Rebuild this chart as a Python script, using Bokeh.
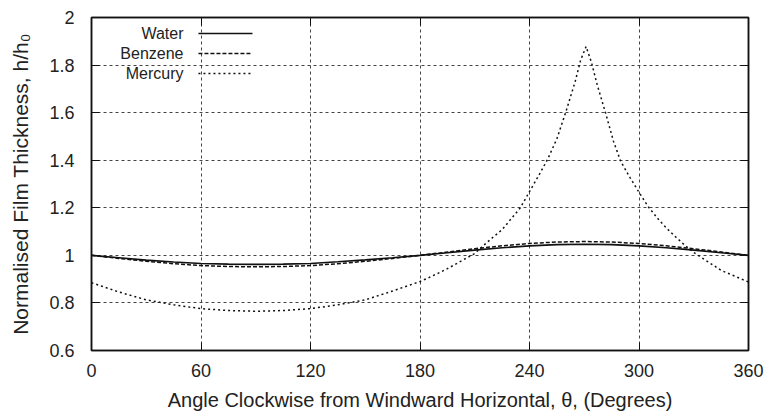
from bokeh.plotting import figure
from bokeh.models import (FixedTicker, NumeralTickFormatter, LinearAxis, Range1d, Label, Arrow,
                          CustomJSTickFormatter)
from bokeh.embed import file_html
from bokeh.resources import INLINE

# ---- data ----
theta = [0, 15, 30, 45, 60, 75, 90, 105, 120, 135, 150, 165, 180,
         195, 210, 225, 240, 255, 270, 285, 300, 315, 330, 345, 360]
water = [1.0, 0.990, 0.980, 0.972, 0.966, 0.963, 0.962, 0.963, 0.966, 0.973, 0.981, 0.990, 1.0,
         1.011, 1.022, 1.032, 1.040, 1.045, 1.047, 1.045, 1.040, 1.032, 1.022, 1.011, 1.0]
benzene = [1.0, 0.987, 0.975, 0.965, 0.957, 0.953, 0.952, 0.953, 0.957, 0.965, 0.975, 0.987, 1.0,
           1.014, 1.028, 1.040, 1.050, 1.056, 1.058, 1.056, 1.050, 1.040, 1.028, 1.014, 1.0]
theta_hg = [0, 15, 30, 45, 60, 75, 90, 105, 120, 135, 150, 165, 180, 185, 190, 195, 200, 210,
            215, 220, 225, 229, 235, 240, 245, 250, 255, 260, 265, 268, 271, 274, 277, 282, 286,
            290, 295, 300, 305, 311, 315, 320, 325, 330, 345, 360]
mercury = [0.885, 0.846, 0.813, 0.792, 0.776, 0.768, 0.765, 0.768, 0.776, 0.792, 0.813, 0.850, 0.890,
           0.907, 0.925, 0.944, 0.965, 1.008, 1.043, 1.076, 1.108, 1.145, 1.200, 1.268, 1.335, 1.405,
           1.490, 1.605, 1.730, 1.820, 1.878, 1.810, 1.720, 1.590, 1.480, 1.395, 1.328, 1.265,
           1.205, 1.148, 1.115, 1.078, 1.043, 1.012, 0.937, 0.888]
series_names = ["Water", "Benzene", "Mercury"]
x_ticks = [0, 60, 120, 180, 240, 300, 360]
y_ticks = [0.6, 0.8, 1.0, 1.2, 1.4, 1.6, 1.8, 2.0]

FONT = "Liberation Sans"
TXT = "#222222"
INK = "#111111"

p = figure(width=764, height=416, output_backend="svg", toolbar_location=None,
           x_range=Range1d(0, 360), y_range=Range1d(0.6, 2.0),
           min_border_left=91, min_border_right=16, min_border_top=17, min_border_bottom=66)
p.background_fill_color = "white"
p.border_fill_color = "white"
p.outline_line_color = INK
p.outline_line_width = 1.5

def style_axis(ax):
    ax.axis_line_color = INK
    ax.axis_line_width = 1.5
    ax.major_tick_in = 8
    ax.major_tick_out = 0
    ax.minor_tick_line_color = None
    ax.major_tick_line_color = INK
    ax.major_tick_line_width = 1
    ax.major_label_text_font = FONT
    ax.major_label_text_font_size = "18px"
    ax.major_label_text_color = TXT
    ax.axis_label_text_font = FONT
    ax.axis_label_text_font_size = "20px"
    ax.axis_label_text_font_style = "normal"
    ax.axis_label_text_color = TXT

p.xaxis.ticker = FixedTicker(ticks=x_ticks)
p.yaxis.ticker = FixedTicker(ticks=y_ticks)
p.yaxis.formatter = NumeralTickFormatter(format="0.[0]")
p.xaxis.axis_label = "Angle Clockwise from Windward Horizontal, \u03b8, (Degrees)"
p.yaxis.axis_label = "Normalised Film Thickness, h/h\u2080"
style_axis(p.xaxis[0])
style_axis(p.yaxis[0])
p.yaxis.axis_label_text_font_size = "21px"
p.xaxis.major_label_standoff = 13
p.xaxis.axis_label_standoff = 9
p.yaxis.major_label_standoff = 17
p.yaxis.axis_label_standoff = 14

blank = CustomJSTickFormatter(code="return ''")
top = LinearAxis(ticker=FixedTicker(ticks=x_ticks), formatter=blank)
right = LinearAxis(ticker=FixedTicker(ticks=y_ticks), formatter=blank)
for ax in (top, right):
    style_axis(ax)
    ax.major_label_standoff = 0
p.add_layout(top, "above")
p.add_layout(right, "right")

p.xgrid.ticker = FixedTicker(ticks=x_ticks[1:-1])
p.ygrid.ticker = FixedTicker(ticks=y_ticks[1:-1])
for g in (p.xgrid[0], p.ygrid[0]):
    g.grid_line_color = "#444444"
    g.grid_line_width = 1
    g.grid_line_dash = "3 3"

p.line(theta, water, line_color=INK, line_width=1.6)
p.line(theta, benzene, line_color=INK, line_width=1.5, line_dash="4 2")
p.line(theta_hg, mercury, line_color=INK, line_width=1.5, line_dash="2 3")

# legend (gnuplot style: label then sample)
leg_y = [1.933, 1.849, 1.765]
dashes = ["solid", "4 2", "2 3"]
for name, yy, d in zip(series_names, leg_y, dashes):
    p.add_layout(Label(x=50.4, y=yy, text=name, text_align="right", text_baseline="middle",
                       text_font=FONT, text_font_size="16px", text_color=TXT))
    p.add_layout(Arrow(end=None, x_start=58.6, y_start=yy, x_end=88.2, y_end=yy,
                       line_color=INK, line_width=1.5, line_dash=d))

open("out.html", "w").write(file_html(p, INLINE))
